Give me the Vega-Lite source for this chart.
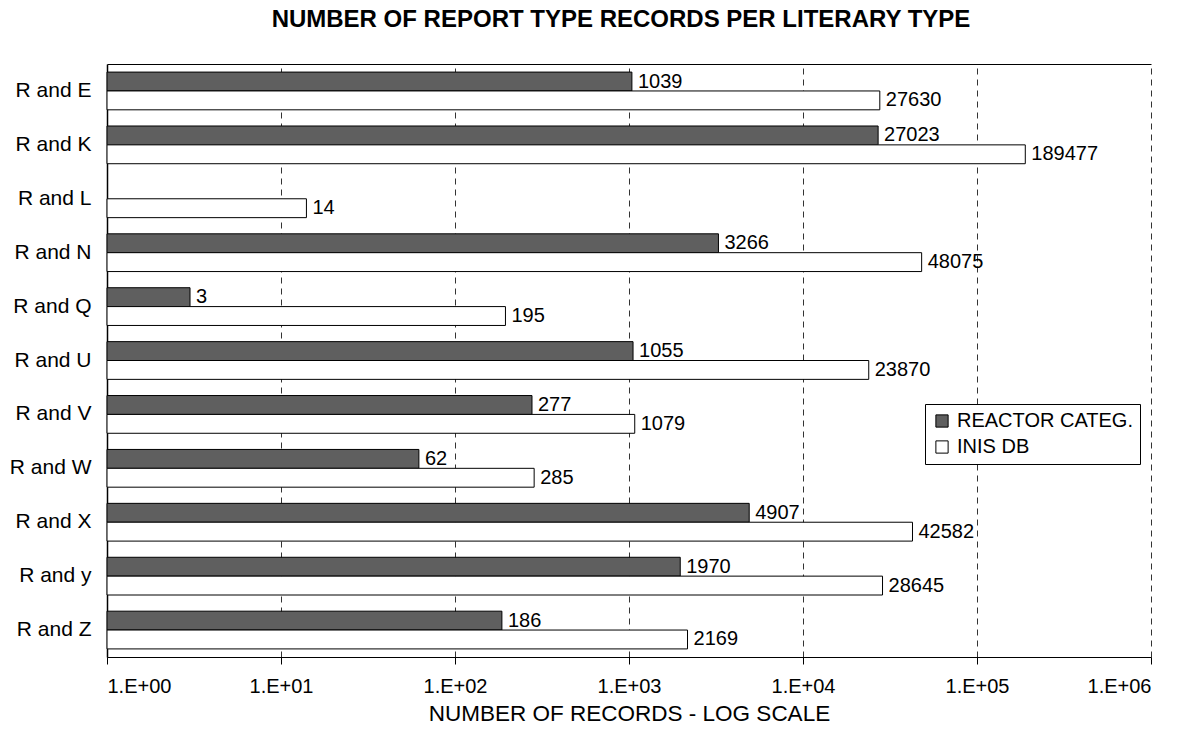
{
  "$schema": "https://vega.github.io/schema/vega-lite/v6.json",
  "width": 1044,
  "height": 593,
  "autosize": "none",
  "padding": {"left": 107, "top": 64, "right": 43, "bottom": 79},
  "config": {
    "font": "Liberation Sans",
    "view": {"stroke": null},
    "axis": {"labelColor": "black", "titleColor": "black", "domainColor": "black", "tickColor": "black"}
  },
  "title": {
    "text": "NUMBER OF REPORT TYPE RECORDS PER LITERARY TYPE",
    "fontSize": 24,
    "fontWeight": "bold",
    "color": "black",
    "anchor": "middle",
    "dx": -8,
    "offset": 32
  },
  "data": {
    "values": [
      {"type": "R and E", "series": "REACTOR CATEG.", "n": 1039},
      {"type": "R and E", "series": "INIS DB", "n": 27630},
      {"type": "R and K", "series": "REACTOR CATEG.", "n": 27023},
      {"type": "R and K", "series": "INIS DB", "n": 189477},
      {"type": "R and L", "series": "INIS DB", "n": 14},
      {"type": "R and N", "series": "REACTOR CATEG.", "n": 3266},
      {"type": "R and N", "series": "INIS DB", "n": 48075},
      {"type": "R and Q", "series": "REACTOR CATEG.", "n": 3},
      {"type": "R and Q", "series": "INIS DB", "n": 195},
      {"type": "R and U", "series": "REACTOR CATEG.", "n": 1055},
      {"type": "R and U", "series": "INIS DB", "n": 23870},
      {"type": "R and V", "series": "REACTOR CATEG.", "n": 277},
      {"type": "R and V", "series": "INIS DB", "n": 1079},
      {"type": "R and W", "series": "REACTOR CATEG.", "n": 62},
      {"type": "R and W", "series": "INIS DB", "n": 285},
      {"type": "R and X", "series": "REACTOR CATEG.", "n": 4907},
      {"type": "R and X", "series": "INIS DB", "n": 42582},
      {"type": "R and y", "series": "REACTOR CATEG.", "n": 1970},
      {"type": "R and y", "series": "INIS DB", "n": 28645},
      {"type": "R and Z", "series": "REACTOR CATEG.", "n": 186},
      {"type": "R and Z", "series": "INIS DB", "n": 2169}
    ]
  },
  "encoding": {
    "y": {
      "field": "type",
      "type": "nominal",
      "sort": ["R and E", "R and K", "R and L", "R and N", "R and Q", "R and U", "R and V", "R and W", "R and X", "R and y", "R and Z"],
      "scale": {"paddingInner": 0.3, "paddingOuter": 0.15},
      "axis": {"title": null, "ticks": false, "labelFontSize": 21, "labelPadding": 16, "domainWidth": 1.5}
    },
    "yOffset": {"field": "series", "type": "nominal", "sort": ["REACTOR CATEG.", "INIS DB"]}
  },
  "layer": [
    {
      "mark": {"type": "bar", "stroke": "black", "strokeWidth": 1},
      "encoding": {
        "x": {
          "field": "n",
          "type": "quantitative",
          "scale": {"type": "log", "domain": [1, 1000000], "nice": false},
          "axis": {
            "orient": "bottom",
            "values": [1, 10, 100, 1000, 10000, 100000, 1000000],
            "labelExpr": "'1.E+0' + format(log(datum.value) / LN10, '.0f')",
            "labelFontSize": 20,
            "labelPadding": 12,
            "tickSize": 7,
            "grid": true,
            "gridDash": [6, 5],
            "gridColor": "#333",
            "gridOpacity": 1,
            "title": "NUMBER OF RECORDS - LOG SCALE",
            "titleFontSize": 22.5,
            "titleFontWeight": "normal",
            "titlePadding": 6
          }
        },
        "x2": {"datum": 1},
        "fill": {
          "field": "series",
          "type": "nominal",
          "scale": {"domain": ["REACTOR CATEG.", "INIS DB"], "range": ["#5f5f5f", "#ffffff"]},
          "legend": {
            "title": null,
            "orient": "none",
            "legendX": 818,
            "legendY": 340,
            "strokeColor": "black",
            "fillColor": "white",
            "padding": 7,
            "symbolType": "square",
            "symbolSize": 150,
            "symbolStrokeColor": "black",
            "symbolStrokeWidth": 1,
            "labelFontSize": 20,
            "labelLimit": 400,
            "labelColor": "black",
            "rowPadding": 6,
            "labelOffset": 5
          }
        }
      }
    },
    {
      "mark": {"type": "text", "align": "left", "baseline": "middle", "dx": 6, "fontSize": 20, "color": "black"},
      "encoding": {
        "x": {
          "field": "n",
          "type": "quantitative",
          "axis": {"orient": "top", "labels": false, "ticks": false, "grid": false, "title": null, "domainColor": "black"}
        },
        "text": {"field": "n", "type": "quantitative", "format": "d"}
      }
    }
  ],
  "resolve": {"axis": {"x": "independent"}}
}
